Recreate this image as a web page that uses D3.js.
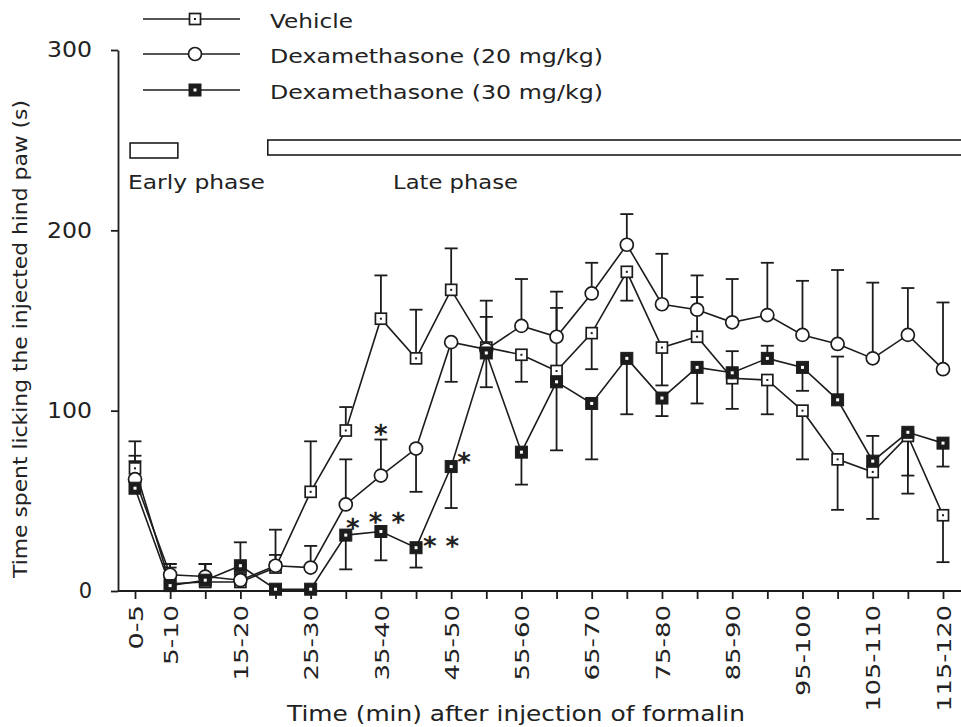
<!DOCTYPE html>
<html><head><meta charset="utf-8">
<script src="https://cdn.jsdelivr.net/npm/d3@7"></script>
<style>
html,body{margin:0;padding:0;background:#fff;}
svg{display:block;font-family:"DejaVu Sans",sans-serif;}
</style></head><body>
<svg id="chart" width="961" height="727"></svg>
<script>
// ---------- DATA ----------
const categories = ["0-5","5-10","10-15","15-20","20-25","25-30","30-35","35-40","40-45","45-50","50-55","55-60",
  "60-65","65-70","70-75","75-80","80-85","85-90","90-95","95-100","100-105","105-110","110-115","115-120"];
const tickLabels = ["0-5","5-10","15-20","25-30","35-40","45-50","55-60","65-70","75-80","85-90","95-100","105-110","115-120"];
const yTicks = [0,100,200,300];
const seriesNames = ["Vehicle","Dexamethasone (20 mg/kg)","Dexamethasone (30 mg/kg)"];
// mean licking time (s)
const vehicle = [68,4,5,5,13,55,89,151,129,167,135,131,122,143,177,135,141,118,117,100,73,66,86,42];
const dex20   = [62,9,8,6,14,13,48,64,79,138,134,147,141,165,192,159,156,149,153,142,137,129,142,123];
const dex30   = [57,3,6,14,1,1,31,33,24,69,132,77,116,104,129,107,124,121,129,124,106,72,88,82];
// SEM (sign gives the side on which the one-sided bar is drawn)
const vehicleErr = [15,11,10,4,21,28,13,24,27,23,26,-15,35,-20,-16,-21,22,-17,-19,-27,-28,-26,-32,-26];
const dex20Err   = [13,6,7,4,6,12,25,20,-24,-22,18,26,25,17,17,28,19,24,29,30,41,42,26,37];
const dex30Err   = [15,10,9,13,0,0,-19,-16,-11,-23,-19,-18,-38,-31,-31,-10,-20,12,7,-13,24,14,-24,-13];
// phases (minutes after injection)
const phaseNames = ["Early phase","Late phase"];
const phaseStart = [1.8, 21.4];
const phaseEnd   = [8.6, 130];
// significance marks
const starText   = ["*","*","* *","* *","*"];
const starSeries = [2,1,2,2,2];
const starIndex  = [6,7,7,8,9];

// ---------- DRAW ----------
const ink = "#1c1c1c";
const svg = d3.select("#chart");
const x = d3.scalePoint().domain(categories).range([135,943]);
const y = d3.scaleLinear().domain([0,300]).range([591,50]);
const t = d3.scaleLinear().domain([2.5,117.5]).range([135,943]);

const series = [
  {name:seriesNames[0], vals:vehicle, err:vehicleErr, marker:"sq"},
  {name:seriesNames[1], vals:dex20, err:dex20Err, marker:"circ"},
  {name:seriesNames[2], vals:dex30, err:dex30Err, marker:"fsq"}
];

// axes
const yAxis = svg.append("g").attr("transform","translate(118,0)")
  .call(d3.axisLeft(y).tickValues(yTicks).tickSize(7).tickSizeOuter(0).tickPadding(19));
yAxis.selectAll("path,line").attr("stroke",ink).attr("stroke-width",1.8);
yAxis.selectAll("text").attr("font-size",21).attr("fill","#222")
  .attr("font-family","DejaVu Sans").each(function(d){
    const s = String(d); if (s.length>1) d3.select(this).attr("textLength", s.length*15).attr("lengthAdjust","spacingAndGlyphs");
  });

svg.append("line").attr("x1",118).attr("x2",961).attr("y1",y(0)).attr("y2",y(0))
  .attr("stroke",ink).attr("stroke-width",1.8);
const xAxis = svg.append("g").attr("transform",`translate(0,${y(0)})`)
  .call(d3.axisBottom(x).tickSize(8).tickSizeOuter(0).tickFormat(d => tickLabels.includes(d) ? d : ""));
xAxis.select(".domain").remove();
xAxis.selectAll("line").attr("stroke",ink).attr("stroke-width",1.8);
xAxis.selectAll("text").attr("font-size",20).attr("fill","#222").attr("font-family","DejaVu Sans")
  .attr("transform","rotate(-90)").attr("text-anchor","end")
  .attr("x",-14).attr("y",0).attr("dy","0.36em")
  .each(function(d){ if (tickLabels.includes(d)) d3.select(this).attr("textLength", d.length*15.5-2).attr("lengthAdjust","spacingAndGlyphs"); });

// axis titles
svg.append("text").attr("x",516).attr("y",721).attr("text-anchor","middle")
  .attr("font-size",21).attr("fill","#222")
  .attr("textLength",458).attr("lengthAdjust","spacingAndGlyphs")
  .text("Time (min) after injection of formalin");
svg.append("text").attr("transform","translate(27,339) rotate(-90)").attr("text-anchor","middle")
  .attr("font-size",20).attr("fill","#222")
  .attr("textLength",478).attr("lengthAdjust","spacingAndGlyphs")
  .text("Time spent licking the injected hind paw (s)");

// phase boxes
const phaseTop = [143,140];
phaseNames.forEach((p,i)=>{
  svg.append("rect").attr("x",t(phaseStart[i])).attr("y",phaseTop[i])
    .attr("width",t(phaseEnd[i])-t(phaseStart[i])).attr("height",15)
    .attr("fill","#fff").attr("stroke",ink).attr("stroke-width",1.6);
});
svg.append("text").attr("x",128).attr("y",189).attr("font-size",20).attr("fill","#222")
  .attr("textLength",137).attr("lengthAdjust","spacingAndGlyphs").text(phaseNames[0]);
svg.append("text").attr("x",393).attr("y",189).attr("font-size",20).attr("fill","#222")
  .attr("textLength",125).attr("lengthAdjust","spacingAndGlyphs").text(phaseNames[1]);

// marker drawer
function drawMarker(g, type, cx, cy){
  if (type==="circ"){
    g.append("circle").attr("cx",cx).attr("cy",cy).attr("r",6.5)
      .attr("fill","#fff").attr("stroke",ink).attr("stroke-width",1.7);
  } else if (type==="sq"){
    g.append("rect").attr("x",cx-5.5).attr("y",cy-5.5).attr("width",11).attr("height",11)
      .attr("fill","#fff").attr("stroke",ink).attr("stroke-width",1.7);
    g.append("rect").attr("x",cx-1).attr("y",cy-1).attr("width",2).attr("height",2).attr("fill",ink);
  } else {
    g.append("rect").attr("x",cx-6).attr("y",cy-6).attr("width",12).attr("height",12)
      .attr("fill",ink).attr("stroke",ink).attr("stroke-width",1);
    g.append("rect").attr("x",cx-1.5).attr("y",cy-1.5).attr("width",3).attr("height",3).attr("fill","#fff");
  }
}

// error bars
const gErr = svg.append("g").attr("stroke",ink).attr("stroke-width",1.8);
series.forEach(s=>{
  s.vals.forEach((v,i)=>{
    const cx = x(categories[i]);
    const e = s.err[i];
    if (e===0) return;
    gErr.append("line").attr("x1",cx).attr("x2",cx).attr("y1",y(v)).attr("y2",y(v+e));
    gErr.append("line").attr("x1",cx-6.5).attr("x2",cx+6.5).attr("y1",y(v+e)).attr("y2",y(v+e));
  });
});

// lines
const line = d3.line().x((d,i)=>x(categories[i])).y(d=>y(d));
series.forEach(s=>{
  svg.append("path").datum(s.vals).attr("d",line).attr("fill","none")
    .attr("stroke",ink).attr("stroke-width",1.6);
});

// markers
series.forEach(s=>{
  const g = svg.append("g");
  s.vals.forEach((v,i)=> drawMarker(g, s.marker, x(categories[i]), y(v)));
});

// significance stars (offsets are placement only)
const starOffsets = [[7,-13],[0,-48],[6,-15],[25,-8],[13,-11]];
starText.forEach((txt,k)=>{
  const s = series[starSeries[k]];
  const cx = x(categories[starIndex[k]]) + starOffsets[k][0];
  const cy = y(s.vals[starIndex[k]]) + starOffsets[k][1];
  svg.append("text").attr("x",cx).attr("y",cy+15).attr("text-anchor","middle")
    .attr("font-size",26).attr("font-weight","bold").attr("fill","#222")
    .style("text-rendering","geometricPrecision").text(txt);
});

// legend
const legendY = [19,54,90];
series.forEach((s,i)=>{
  const ly = legendY[i];
  svg.append("line").attr("x1",143).attr("x2",240).attr("y1",ly).attr("y2",ly)
    .attr("stroke",ink).attr("stroke-width",1.6);
  drawMarker(svg.append("g"), s.marker, 195, ly);
  const tw = i===0 ? 83 : 333;
  svg.append("text").attr("x",270).attr("y",ly+9).attr("font-size",20).attr("fill","#222")
    .attr("textLength",tw).attr("lengthAdjust","spacingAndGlyphs").text(s.name);
});
</script>
</body></html>
